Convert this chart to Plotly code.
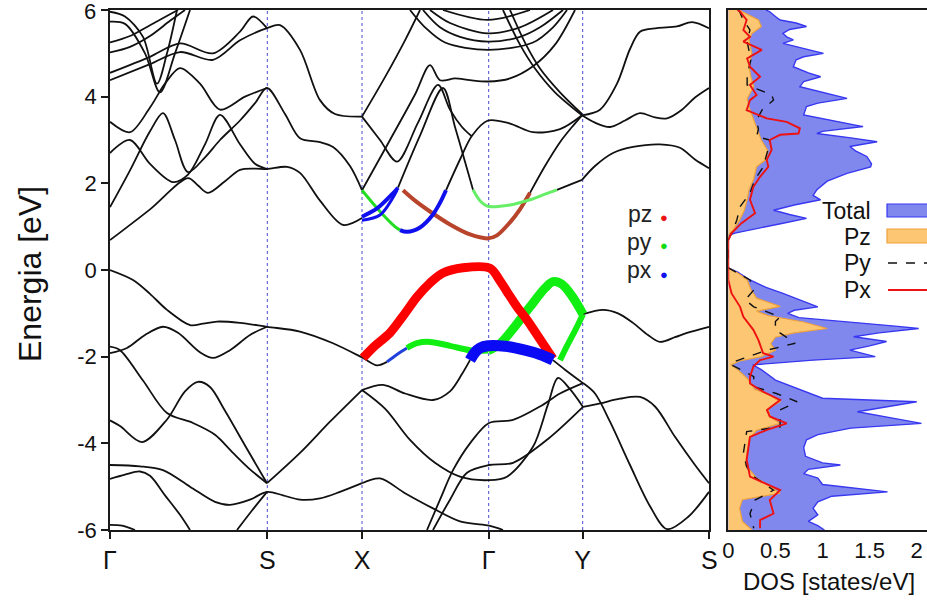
import plotly.graph_objects as go

# ---------------------------------------------------------------- band path
KPOS = [0.0, 1.573, 2.52, 3.787, 4.727, 5.993]
KLAB = ["Γ", "S", "X", "Γ", "Y", "S"]
E_TICKS = [-6, -4, -2, 0, 2, 4, 6]

# ---------------------------------------------------------------- black bands, (k, E [eV])
gs_c1 = [(0, 0.69), (0.40, 1.40), (0.78, 2.12), (0.88, 1.95), (0.98, 1.78), (1.15, 2.05), (1.30, 2.31),
         (1.45, 2.34), (1.57, 2.33), (1.77, 2.38), (1.90, 2.24), (2.10, 1.60), (2.33, 1.04), (2.52, 1.20)]
gs_c2 = [(0, 1.45), (0.2, 2.3), (0.4, 3.2), (0.53, 3.62), (0.65, 3.0), (0.78, 2.26), (0.95, 2.6), (1.1, 3.0),
         (1.3, 3.45), (1.45, 3.85), (1.57, 4.2), (1.75, 3.6), (1.9, 3.04), (2.1, 2.95), (2.23, 2.84), (2.4, 2.4),
         (2.52, 1.84)]
gs_c3 = [(0, 2.7), (0.2, 3.0), (0.4, 2.45), (0.63, 2.03), (0.78, 2.2), (0.95, 2.9), (1.1, 3.58), (1.3, 2.9),
         (1.45, 2.45), (1.57, 2.33)]
gs_c4 = [(0, 3.42), (0.2, 3.18), (0.4, 3.75), (0.55, 4.3), (0.7, 4.66), (0.9, 4.3), (1.1, 3.7), (1.35, 4.0),
         (1.57, 4.2)]
gs_u1 = [(0, 4.38), (0.4, 4.75), (0.7, 5.03), (1.03, 4.85), (1.3, 5.3), (1.57, 5.58), (1.7, 5.65), (1.9, 5.08),
         (2.1, 3.92), (2.25, 3.6), (2.52, 3.54)]
gs_u2 = [(0, 4.55), (0.4, 4.92), (0.7, 5.23), (1.03, 5.0), (1.3, 5.5), (1.43, 5.85), (1.57, 5.58)]
gs_v1u = [(0, 5.96), (0.15, 5.85), (0.33, 5.38), (0.47, 4.3), (0.57, 5.0), (0.67, 6.0)]
gs_v2u = [(0, 5.73), (0.15, 5.68), (0.35, 5.0), (0.5, 4.1), (0.65, 5.0), (0.8, 6.0)]
gs_w1 = [(0, 5.25), (0.2, 5.4), (0.4, 5.65), (0.6, 5.9), (0.68, 6.0)]
gs_w2 = [(0, 5.02), (0.2, 5.15), (0.4, 5.4), (0.6, 5.75), (0.75, 6.0)]

xg_l1 = [(2.52, 3.54), (2.75, 4.45), (2.95, 5.3), (3.1, 6.0)]
xg_c1 = [(2.52, 1.84), (2.8, 3.0), (3.05, 4.05), (3.2, 4.73), (3.3, 4.38), (3.45, 4.42), (3.6, 4.38),
         (3.78, 4.35), (4.0, 4.42), (4.23, 4.7), (4.45, 5.2), (4.65, 6.0)]
xg_c2 = [(2.52, 3.54), (2.7, 3.0), (2.87, 2.5), (3.08, 3.4), (3.28, 4.27), (3.4, 3.7), (3.52, 3.3), (3.62, 3.08)]
xg_c3 = [(2.88, 1.9), (3.1, 3.1), (3.33, 4.2), (3.45, 3.3), (3.55, 2.5), (3.63, 1.85)]
xg_c4 = [(3.36, 1.84), (3.5, 2.55), (3.62, 3.1), (3.78, 3.45), (4.0, 3.38), (4.23, 3.18), (4.5, 3.25),
         (4.72, 3.57)]
arc_2 = [(3.0, 6.0), (3.15, 5.6), (3.35, 5.25), (3.78, 5.08), (4.23, 5.25), (4.43, 5.6), (4.57, 6.0)]
arc_3 = [(3.13, 6.0), (3.3, 5.6), (3.5, 5.38), (3.78, 5.27), (4.1, 5.38), (4.3, 5.6), (4.53, 6.0)]
arc_4 = [(3.2, 6.0), (3.4, 5.7), (3.78, 5.46), (4.1, 5.6), (4.43, 6.0)]
arc_5 = [(3.33, 6.0), (3.78, 5.77), (4.2, 6.0)]
gy_l2 = [(3.93, 6.0), (4.1, 5.2), (4.25, 4.65), (4.45, 4.1), (4.72, 3.57)]
gy_l3 = [(4.0, 6.0), (4.16, 5.2), (4.3, 4.65), (4.5, 4.1), (4.72, 3.6)]
gy_red = [(4.2, 1.78), (4.35, 2.4), (4.5, 2.95), (4.62, 3.3), (4.72, 3.57)]
gy_grn = [(4.47, 1.85), (4.6, 1.97), (4.72, 2.08)]
ys_top = [(4.72, 3.57), (4.9, 3.7), (5.07, 4.3), (5.2, 5.1), (5.3, 5.5), (5.47, 5.58), (5.67, 5.62),
          (5.82, 5.72), (5.99, 5.58)]
ys_mid = [(4.72, 3.57), (4.85, 3.4), (5.0, 3.3), (5.15, 3.45), (5.3, 3.62), (5.45, 3.52), (5.57, 3.5),
          (5.72, 3.7), (5.85, 3.98), (5.99, 4.2)]
ys_low = [(4.72, 2.08), (4.85, 2.4), (5.03, 2.7), (5.23, 2.84), (5.5, 2.9), (5.7, 2.82), (5.85, 2.55),
          (5.99, 2.35)]

gs_v1 = [(0, 0), (0.23, -0.23), (0.4, -0.55), (0.57, -0.92), (0.8, -1.27), (0.93, -1.24), (1.07, -1.19),
         (1.3, -1.22), (1.57, -1.31), (1.9, -1.42), (2.23, -1.69), (2.53, -2.03), (2.67, -2.2), (2.77, -2.12)]
gs_v2 = [(0, -1.92), (0.17, -1.8), (0.35, -1.5), (0.53, -1.31), (0.68, -1.45), (0.9, -1.9), (1.03, -2.03),
         (1.2, -1.85), (1.4, -1.5), (1.57, -1.31)]
gs_v3 = [(0, -1.77), (0.1, -1.85), (0.33, -2.55), (0.57, -3.3), (0.83, -3.53), (1.05, -3.8), (1.23, -4.22),
         (1.4, -4.6), (1.57, -4.92)]
gs_v4 = [(0, -3.47), (0.1, -3.6), (0.32, -3.97), (0.57, -3.45), (0.75, -2.8), (0.88, -2.58), (1.0, -2.7),
         (1.15, -3.25), (1.35, -4.05), (1.57, -4.92)]
sx_v = [(1.57, -4.92), (1.9, -4.22), (2.2, -3.5), (2.52, -2.77)]
gs_v5 = [(0, -4.5), (0.3, -4.53), (0.53, -4.62), (0.8, -5.0), (1.05, -5.35), (1.2, -5.42), (1.4, -5.3),
         (1.57, -5.12), (1.73, -5.2), (1.9, -5.3), (2.1, -5.27), (2.3, -5.12), (2.52, -4.92)]
gs_v6 = [(0, -4.82), (0.15, -4.72), (0.3, -4.65), (0.4, -4.75), (0.55, -5.2), (0.7, -5.65), (0.8, -6.0)]
gs_v7 = [(0, -5.88), (0.12, -5.9), (0.25, -6.0)]
gs_v8 = [(1.27, -6.0), (1.42, -5.55), (1.57, -5.12)]
xg_va = [(2.52, -2.77), (2.73, -2.65), (2.95, -2.85), (3.23, -3.0), (3.4, -2.8), (3.52, -2.4), (3.6, -2.08)]
xg_vb = [(2.52, -2.77), (2.75, -3.2), (3.0, -3.92), (3.25, -4.45), (3.5, -4.77), (3.79, -4.85), (3.97, -4.77),
         (4.23, -4.08), (4.38, -3.1), (4.48, -2.49), (4.6, -2.75), (4.73, -3.16)]
xg_vc = [(2.52, -4.92), (2.7, -4.81), (2.95, -5.15), (3.23, -5.5), (3.5, -5.8), (3.79, -5.9), (3.87, -5.95),
         (3.93, -6.0)]
xg_vd = [(3.17, -6.0), (3.3, -5.3), (3.43, -4.62), (3.6, -4.0), (3.79, -3.53), (4.03, -3.46), (4.3, -3.15),
         (4.5, -2.85), (4.73, -2.61)]
xg_ve = [(3.23, -6.0), (3.4, -5.3), (3.57, -4.68), (3.79, -4.5), (4.03, -4.45), (4.38, -3.9), (4.73, -3.16)]
gy_vb = [(4.43, -2.08), (4.55, -2.3), (4.73, -2.61)]
ys_v1 = [(4.73, -1.02), (4.93, -0.92), (5.08, -1.0), (5.23, -1.22), (5.38, -1.5), (5.5, -1.66), (5.65, -1.55),
         (5.77, -1.45), (5.99, -1.31)]
ys_v2 = [(4.73, -2.61), (4.85, -2.85), (5.0, -3.5), (5.2, -4.5), (5.4, -5.45), (5.57, -5.98), (5.78, -5.7),
         (5.99, -5.12)]
ys_v3 = [(4.73, -3.16), (4.9, -3.08), (5.1, -2.97), (5.3, -2.93), (5.45, -3.15), (5.65, -3.85), (5.85, -4.5),
         (5.99, -4.92)]

BLACK_BANDS = [gs_c1, gs_c2, gs_c3, gs_c4, gs_u1, gs_u2, gs_v1u, gs_v2u, gs_w1, gs_w2,
               xg_l1, xg_c1, xg_c2, xg_c3, xg_c4, arc_2, arc_3, arc_4, arc_5, gy_l2, gy_l3,
               gy_red, gy_grn, ys_top, ys_mid, ys_low,
               gs_v1, gs_v2, gs_v3, gs_v4, sx_v, gs_v5, gs_v6, gs_v7, gs_v8,
               xg_va, xg_vb, xg_vc, xg_vd, xg_ve, gy_vb, ys_v1, ys_v2, ys_v3]

# ---------------------------------------------------------------- orbital-projected (fat) bands
pz_val = [(2.53, -2.03), (2.65, -1.75), (2.8, -1.45), (2.95, -1.0), (3.07, -0.62), (3.2, -0.3), (3.33, -0.07),
          (3.53, 0.05), (3.8, 0.04), (3.9, -0.25), (3.97, -0.5), (4.07, -0.85), (4.17, -1.15), (4.3, -1.6),
          (4.43, -2.05)]
px_thin = [(2.77, -2.12), (2.87, -1.95), (2.97, -1.8)]
py_flat = [(2.97, -1.8), (3.07, -1.69), (3.2, -1.66), (3.4, -1.75), (3.6, -1.85), (3.78, -1.86)]
py_rise = [(3.78, -1.86), (3.9, -1.7), (4.05, -1.3), (4.2, -0.85), (4.35, -0.42), (4.43, -0.27), (4.52, -0.33),
           (4.62, -0.6), (4.73, -1.02)]
py_back = [(4.73, -1.02), (4.65, -1.4), (4.57, -1.75), (4.5, -2.08)]
px_val = [(3.6, -2.08), (3.65, -1.9), (3.7, -1.8), (3.78, -1.75), (3.95, -1.76), (4.15, -1.85), (4.3, -1.95),
          (4.43, -2.08)]
py_cx = [(2.52, 1.84), (2.7, 1.35), (2.85, 1.0), (2.9, 0.92)]
px_cx = [(2.9, 0.92), (2.97, 0.88), (3.1, 0.98), (3.22, 1.25), (3.3, 1.55), (3.36, 1.84)]
px_cx2 = [(2.52, 1.23), (2.67, 1.42), (2.83, 1.77), (2.88, 1.9)]
px_cx3 = [(2.52, 1.15), (2.7, 1.27), (2.87, 1.84)]
pz_cx = [(2.93, 1.84), (3.05, 1.6), (3.2, 1.35), (3.4, 1.05), (3.6, 0.82), (3.78, 0.73), (3.87, 0.8),
         (4.0, 1.1), (4.1, 1.4), (4.2, 1.78)]
py_cg = [(3.63, 1.85), (3.7, 1.6), (3.78, 1.47), (4.0, 1.5), (4.2, 1.62), (4.35, 1.75), (4.47, 1.85)]

FAT_BANDS = [  # points, colour, width
    (pz_cx, "#b8442c", 4),
    (py_cx, "#22dd22", 3),
    (px_cx, "#1010ee", 4),
    (px_cx2, "#1010ee", 4),
    (px_cx3, "#1010ee", 3),
    (py_cg, "#66ee66", 3),
    (px_thin, "#2040dd", 3),
    (py_flat, "#11ee11", 6),
    (py_rise, "#11ee11", 9),
    (py_back, "#11ee11", 6),
    (pz_val, "#ff0000", 9),
    (px_val, "#0a0af5", 11),
]

# ---------------------------------------------------------------- DOS (states/eV) against E (eV)
tot_E = [6.0, 5.96, 5.85, 5.77, 5.7, 5.62, 5.55, 5.46, 5.38, 5.31, 5.23, 5.12, 5.0, 4.92, 4.85, 4.69, 4.55,
         4.46, 4.35, 4.23, 4.1, 3.96, 3.85, 3.77, 3.58, 3.45, 3.31, 3.2, 3.15, 3.05, 2.96, 2.85, 2.75, 2.62,
         2.45, 2.38, 2.23, 2.05, 1.85, 1.72, 1.62, 1.5, 1.38, 1.28, 1.19, 1.08, 0.98, 0.92, 0.85, 0.81, 0.75,
         0.05, -0.05, -0.23, -0.4, -0.54, -0.69, -0.85, -0.93, -1.0, -1.1, -1.2, -1.3, -1.35, -1.45, -1.54,
         -1.65, -1.75, -1.85, -2.0, -2.08, -2.19, -2.3, -2.54, -2.75, -2.96, -3.04, -3.15, -3.27, -3.4,
         -3.54, -3.65, -3.8, -3.92, -4.1, -4.3, -4.45, -4.5, -4.6, -4.7, -4.8, -4.95, -5.05, -5.12, -5.22,
         -5.35, -5.5, -5.65, -5.8, -5.9, -6.0]
tot_D = [0.40, 0.44, 0.50, 0.55, 0.72, 0.83, 0.65, 0.58, 0.62, 0.69, 0.58, 0.80, 1.01, 0.80, 0.72, 0.69, 0.85,
         0.98, 0.80, 0.76, 1.0, 1.26, 0.95, 0.83, 0.80, 1.1, 1.43, 1.0, 0.94, 1.3, 1.58, 1.29, 1.35, 1.47,
         1.52, 1.51, 1.26, 1.05, 0.94, 0.9, 0.98, 0.7, 0.48, 0.65, 0.83, 0.58, 0.35, 0.2, 0.07, 0.02, 0.0,
         0.0, 0.1, 0.23, 0.4, 0.58, 0.76, 0.95, 0.7, 0.63, 0.75, 1.3, 1.8, 2.02, 1.6, 1.33,
         1.68, 1.5, 1.29, 1.56, 0.9, 0.26, 0.35, 0.5, 0.75, 1.0, 2.0, 1.7, 1.37, 1.7,
         2.05, 1.3, 0.95, 0.83, 0.8, 0.82, 1.0, 1.19, 0.85, 0.8, 0.95, 1.0, 1.4, 1.69, 1.1,
         0.95, 0.9, 0.95, 0.85, 0.95, 1.02]

pz_E = [6.0, 5.96, 5.77, 5.62, 5.46, 5.31, 5.0, 4.69, 4.46, 4.23, 3.96, 3.77, 3.58, 3.31, 3.0, 2.75, 2.55,
        2.38, 2.1, 1.85, 1.62, 1.38, 1.15, 0.92, 0.81,
        0.05, -0.1, -0.23, -0.45, -0.65, -0.84, -0.95, -1.05, -1.2, -1.35, -1.45, -1.55, -1.7, -1.85, -2.0,
        -2.1, -2.19, -2.3, -2.5, -2.75, -2.9, -3.04, -3.2, -3.4, -3.54, -3.7, -3.9, -4.2, -4.5, -4.8, -5.0,
        -5.15, -5.3, -5.5, -5.8, -6.0]
pz_D = [0.12, 0.15, 0.32, 0.35, 0.25, 0.22, 0.25, 0.22, 0.24, 0.27, 0.2, 0.22, 0.25, 0.3, 0.35, 0.42, 0.4,
        0.3, 0.27, 0.22, 0.2, 0.17, 0.12, 0.05, 0.0,
        0.0, 0.12, 0.2, 0.24, 0.3, 0.55, 0.3, 0.42, 0.8, 1.05, 0.7, 0.5, 0.45, 0.5, 0.35,
        0.12, 0.03, 0.1, 0.2, 0.28, 0.45, 0.55, 0.42, 0.45, 0.55, 0.3, 0.22, 0.2, 0.18, 0.3, 0.45,
        0.55, 0.15, 0.12, 0.15, 0.25]

py_E = [6.0, 5.96, 5.77, 5.54, 5.27, 5.08, 4.85, 4.5, 4.27, 4.04, 3.92, 3.7, 3.46, 3.25, 3.08, 3.0, 2.85,
        2.69, 2.38, 2.08, 1.77, 1.46, 1.15, 0.85, 0.69,
        0.05, -0.23, -0.46, -0.69, -0.85, -1.08, -1.19, -1.38, -1.69, -1.85, -2.04, -2.15, -2.19, -2.46,
        -2.69, -2.85, -3.04, -3.23, -3.46, -3.62, -3.73, -4.23, -4.54, -4.77, -5.08, -5.31, -5.62, -5.96]
py_D = [0.1, 0.12, 0.16, 0.23, 0.2, 0.22, 0.24, 0.2, 0.2, 0.46, 0.48, 0.36, 0.3, 0.32, 0.3, 0.44, 0.43,
        0.41, 0.37, 0.28, 0.23, 0.125, 0.09, 0.035, 0.0,
        0.0, 0.23, 0.27, 0.18, 0.27, 0.55, 0.5, 0.5, 0.71, 0.41, 0.16, 0.02, 0.035, 0.27,
        0.27, 0.51, 0.73, 0.55, 0.55, 0.55, 0.195, 0.16, 0.195, 0.27, 0.48, 0.284, 0.23, 0.27]

px_E = [6.0, 5.96, 5.77, 5.54, 5.38, 5.27, 5.08, 4.88, 4.69, 4.46, 4.27, 4.04, 3.92, 3.69, 3.5, 3.42, 3.27,
        3.15, 3.12, 3.0, 2.77, 2.54, 2.38, 2.15, 1.92, 1.62, 1.31, 1.08, 0.85, 0.69,
        0.05, -0.23, -0.54, -0.85, -1.08, -1.38, -1.62, -1.92, -2.0, -2.08, -2.23, -2.46, -2.62, -2.81,
        -3.0, -3.23, -3.38, -3.54, -3.69, -3.85, -4.38, -4.77, -5.08, -5.31, -5.62, -5.77, -5.96]
px_D = [0.1, 0.125, 0.195, 0.16, 0.23, 0.16, 0.355, 0.2, 0.23, 0.337, 0.23, 0.3, 0.23, 0.195, 0.408, 0.62,
        0.76, 0.745, 0.55, 0.44, 0.46, 0.408, 0.425, 0.337, 0.266, 0.23, 0.284, 0.14, 0.035, 0.0,
        0.0, 0.0, 0.035, 0.125, 0.16, 0.266, 0.32, 0.37, 0.48, 0.337, 0.266, 0.23, 0.23, 0.37,
        0.55, 0.41, 0.44, 0.62, 0.41, 0.23, 0.195, 0.23, 0.55, 0.44, 0.48, 0.337, 0.337]

# ---------------------------------------------------------------- figure
W, H = 927, 604
FONT = "Liberation Sans, Arial, Helvetica, sans-serif"
fig = go.Figure()


def add_band(pts, color, width, axis=("x", "y")):
    fig.add_trace(go.Scatter(
        x=[p[0] for p in pts], y=[p[1] for p in pts], mode="lines",
        line=dict(color=color, width=width, shape="spline", smoothing=0.9),
        xaxis=axis[0], yaxis=axis[1], showlegend=False, hoverinfo="skip"))


for b in BLACK_BANDS:
    add_band(b, "#111111", 1.8)
for pts, col, w in FAT_BANDS:
    add_band(pts, col, w)

# DOS panel
fig.add_trace(go.Scatter(x=tot_D, y=tot_E, mode="lines", fill="tozerox", fillcolor="#8088ee",
                         line=dict(color="#3838f0", width=1.4), xaxis="x2", yaxis="y2",
                         showlegend=False, hoverinfo="skip"))
fig.add_trace(go.Scatter(x=pz_D, y=pz_E, mode="lines", fill="tozerox", fillcolor="#fdc673",
                         line=dict(color="#eea23a", width=1.2), xaxis="x2", yaxis="y2",
                         showlegend=False, hoverinfo="skip"))
fig.add_trace(go.Scatter(x=py_D, y=py_E, mode="lines", line=dict(color="#111111", width=1.4, dash="dash"),
                         xaxis="x2", yaxis="y2", showlegend=False, hoverinfo="skip"))
fig.add_trace(go.Scatter(x=px_D, y=px_E, mode="lines", line=dict(color="#ee1111", width=1.9),
                         xaxis="x2", yaxis="y2", showlegend=False, hoverinfo="skip"))

# dotted lines at the interior high-symmetry points
shapes = []
for k in KPOS[1:-1]:
    shapes.append(dict(type="line", xref="x", yref="y", x0=k, x1=k, y0=-6, y1=6,
                       line=dict(color="#4a4ad0", width=1, dash="dot"), layer="below"))


def px2x(px):
    return px / W


def py2y(py):
    return 1 - py / H


# DOS legend swatches
shapes.append(dict(type="rect", xref="paper", yref="paper", x0=px2x(887), x1=px2x(940),
                   y0=py2y(217), y1=py2y(204), fillcolor="#8088ee", line=dict(color="#3838f0", width=1.2)))
shapes.append(dict(type="rect", xref="paper", yref="paper", x0=px2x(887), x1=px2x(940),
                   y0=py2y(243), y1=py2y(229), fillcolor="#fdc673", line=dict(color="#eea23a", width=1.2)))
shapes.append(dict(type="line", xref="paper", yref="paper", x0=px2x(888), x1=px2x(940),
                   y0=py2y(263), y1=py2y(263), line=dict(color="#111111", width=1.4, dash="dash")))
shapes.append(dict(type="line", xref="paper", yref="paper", x0=px2x(888), x1=px2x(940),
                   y0=py2y(290), y1=py2y(290), line=dict(color="#ee1111", width=1.9)))

ann = []
for txt, py in [("Total", 211), ("Pz", 237), ("Py", 263), ("Px", 290)]:
    ann.append(dict(text=txt, x=px2x(873), y=py2y(py), xref="paper", yref="paper", showarrow=False,
                    xanchor="right", yanchor="middle", font=dict(family=FONT, size=23, color="#111")))
for txt, col, py in [("pz", "#ee1111", 214), ("py", "#11dd11", 242), ("px", "#1010ee", 270)]:
    ann.append(dict(text=txt, x=px2x(654), y=py2y(py), xref="paper", yref="paper", showarrow=False,
                    xanchor="right", yanchor="middle", font=dict(family=FONT, size=23, color="#222")))
    ann.append(dict(text="●", x=px2x(664), y=py2y(py + 4), xref="paper", yref="paper", showarrow=False,
                    xanchor="center", yanchor="middle", font=dict(family=FONT, size=13, color=col)))
ann.append(dict(text="Energia [eV]", x=px2x(30), y=py2y(274), xref="paper", yref="paper", showarrow=False,
                textangle=-90, xanchor="center", yanchor="middle", font=dict(family=FONT, size=32, color="#111")))
ann.append(dict(text="DOS [states/eV]", x=px2x(829), y=py2y(581), xref="paper", yref="paper",
                showarrow=False, xanchor="center", yanchor="middle",
                font=dict(family=FONT, size=24, color="#111")))
# label of the top energy tick sits at the very edge of the page
ann.append(dict(text=str(E_TICKS[-1]), x=px2x(98), y=py2y(11), xref="paper", yref="paper", showarrow=False,
                xanchor="right", yanchor="middle", font=dict(family=FONT, size=22, color="#111")))

ydom = [1 - 530 / H, 1 - 10 / H]
axis_common = dict(showgrid=False, zeroline=False, linecolor="#1a1a1a", linewidth=1.6)

fig.update_layout(
    width=W, height=H, autosize=False,
    margin=dict(l=0, r=0, t=0, b=0),
    paper_bgcolor="white", plot_bgcolor="white",
    font=dict(family=FONT, color="#111"),
    shapes=shapes, annotations=ann,
    xaxis=dict(domain=[110 / W, 709.3 / W], range=[KPOS[0], KPOS[-1]], tickvals=KPOS, ticktext=KLAB,
               ticks="outside", ticklen=7, tickwidth=1.5, tickcolor="#1a1a1a", showline=True, mirror=True,
               tickfont=dict(size=25), anchor="y", automargin=False, **axis_common),
    yaxis=dict(domain=ydom, range=[-6, 6], tickvals=E_TICKS,
               ticktext=[str(v) for v in E_TICKS[:-1]] + [""], ticks="outside", ticklen=7,
               tickwidth=1.5, tickcolor="#1a1a1a", showline=True, mirror=True, tickfont=dict(size=22),
               anchor="x", automargin=False, **axis_common),
    xaxis2=dict(domain=[728.3 / W, 1.0], range=[0, 2.109], tickvals=[0, 0.5, 1, 1.5, 2],
                ticktext=["0", "0.5", "1", "1.5", "2"], ticks="", showline=True, mirror=True,
                tickfont=dict(size=22), anchor="y2", automargin=False, **axis_common),
    yaxis2=dict(domain=ydom, range=[-6, 6], showticklabels=False, ticks="", showline=True, mirror=False,
                anchor="x2", automargin=False, **axis_common),
)

fig.write_html("out.html")
